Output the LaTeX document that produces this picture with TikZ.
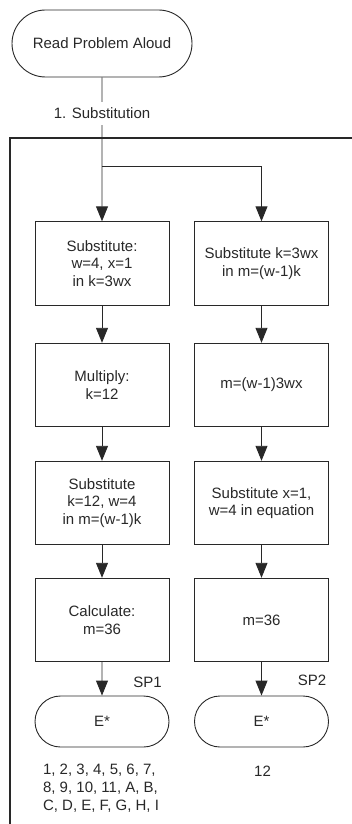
\documentclass[tikz,border=0pt]{standalone}
\usepackage{fontspec}
\setmainfont{Liberation Sans}
\usetikzlibrary{arrows.meta,shapes.misc}
\definecolor{ink}{RGB}{40,40,40}
\tikzset{
  txt/.style={font=\fontsize{15}{17.7}\selectfont, text=ink, align=center},
  procbox/.style={txt, draw=ink, line width=0.9pt, minimum width=134pt, minimum height=83.5pt, inner sep=0pt},
  termbox/.style={txt, draw=ink, line width=0.9pt, rounded rectangle, inner sep=0pt},
  arr/.style={draw=ink, line width=0.9pt, -{Triangle[length=15pt,width=12pt]}},
  conn/.style={draw=ink, line width=0.9pt}
}
\begin{document}
\begin{tikzpicture}[x=1pt,y=-1pt]
\useasboundingbox (0,0) rectangle (351,824);
% frame
\draw[ink, line width=2pt] (352,137.5) -- (10,137.5) -- (10,826);
% start
\node[termbox, minimum width=180pt, minimum height=67pt] (start) at (102,43.5) {Read Problem Aloud};
% left column
\node[procbox] (b1) at (102,263.5) {Substitute:\\w=4, x=1\\in k=3wx};
\node[procbox] (b2) at (102,385) {Multiply:\\k=12};
\node[procbox] (b3) at (102,503) {Substitute\\k=12, w=4\\in m=(w-1)k};
\node[procbox] (b4) at (102,620) {Calculate:\\m=36};
\node[termbox, minimum width=134pt, minimum height=51pt] (e1) at (102,721.5) {E*};
% right column
\node[procbox] (c1) at (261.5,263.5) {Substitute k=3wx\\in m=(w-1)k};
\node[procbox] (c2) at (261.5,385) {m=(w-1)3wx};
\node[procbox] (c3) at (261.5,503) {Substitute x=1,\\w=4 in equation};
\node[procbox] (c4) at (261.5,620) {m=36};
\node[termbox, minimum width=134pt, minimum height=51pt] (e2) at (261.5,721.5) {E*};
% connectors
\draw[arr] (start) -- (b1);
\node[txt, fill=white, inner xsep=2pt, inner ysep=0pt, minimum height=23pt] (lab) at (102,113.5) {1. Substitution};
\coordinate (br) at (102,166);
\draw[arr] (br) -| (c1);
\draw[arr] (b1) -- (b2);
\draw[arr] (b2) -- (b3);
\draw[arr] (b3) -- (b4);
\draw[arr] (b4) -- (e1);
\draw[arr] (c1) -- (c2);
\draw[arr] (c2) -- (c3);
\draw[arr] (c3) -- (c4);
\draw[arr] (c4) -- (e2);
% labels
\node[txt] (sp1) at (147.5,682) {SP1};
\node[txt] (sp2) at (312,680) {SP2};
\node[txt, align=left] (r1) at (101,788.3) {1, 2, 3, 4, 5, 6, 7,\\8, 9, 10, 11, A, B,\\C, D, E, F, G, H, I};
\node[txt] (r2) at (262.5,771) {12};
\end{tikzpicture}
\end{document}
